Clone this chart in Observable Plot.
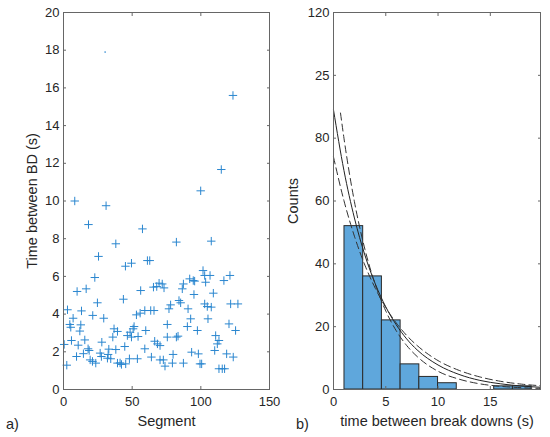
<!DOCTYPE html>
<html><head><meta charset="utf-8">
<script src="https://cdn.jsdelivr.net/npm/d3@7"></script>
<script src="https://cdn.jsdelivr.net/npm/@observablehq/plot@0.6"></script>
<style>
body{margin:0;background:#fff;}
#wrap{position:relative;width:550px;height:437px;font-family:Arial,"Liberation Sans",sans-serif;background:#fff;}
#a,#b{position:absolute;top:0}
#a{left:0;z-index:2} #b{left:275px;z-index:1}
.tag{position:absolute;font-size:14.5px;color:#262626;line-height:1}
</style></head><body>
<div id="wrap"><div id="a"></div><div id="b"></div>
<div class="tag" style="left:6px;top:417px">a)</div>
<div class="tag" style="left:296px;top:417px">b)</div>
</div>
<script>
// ---- panel a: scatter ----
const segment = [8.2,31,99.9,114.9,123.4,18.2,25.5,22.8,9.9,16.5,24.7,2.9,13.1,21.3,29.3,7.0,4.6,5.3,12.6,11.9,5.8,15.5,0.5,10.7,17.9,18.7,14.5,9.5,2.4,19.4,21.1,23.5,26.7,27.6,27.9,33,32.5,32,34.4,38.1,36.8,39.3,35.9,38.1,39.3,41.2,42.2,43.6,44.6,45.3,45.1,49.5,46.5,48.5,49.5,50.7,51.4,48,53.8,53.1,54.3,56.2,57.5,55.8,59.2,59.9,59.2,61.1,62.8,63.5,65.9,64,66.4,68.4,70.3,65.5,67.9,69.6,71.9,73.2,70.3,72.7,73.9,75.6,75.6,76.8,78,79.8,79.3,82.2,82.2,83.4,84.1,85.3,86.5,87.3,87.3,90.2,90.7,91.9,92.6,93.3,94.5,95.5,95,97.5,98.2,99.4,100.6,101.6,102.8,103.5,102.8,104.7,105.2,106.7,107.6,107.6,109.1,110.1,110.8,112,113.2,113.2,115.6,117.3,116.8,121.2,118.8,120.5,121.7,123.6,125.3,127];
const timeBD = [10.0,9.75,10.54,11.67,15.6,8.75,7.06,5.94,5.2,5.34,4.6,4.23,4.17,3.93,3.78,3.78,3.45,3.3,3.43,3.1,2.6,2.63,2.39,2.35,2.16,2.07,1.9,1.75,1.29,1.57,1.49,1.4,1.93,1.75,2.51,2.14,1.86,1.66,1.63,2.12,3.22,3.08,2.78,7.73,1.4,1.41,1.33,4.79,2.28,1.36,6.54,6.7,2.86,3.04,2.78,3.22,3.34,1.63,1.63,3.96,2.81,5.25,8.52,4.05,4.19,3.13,2.16,6.84,6.84,4.19,4.19,1.72,2.56,2.42,2.33,5.43,5.46,5.64,5.6,5.39,1.57,1.57,1.24,3.45,2.78,4.28,4.49,1.86,1.4,2.78,7.82,2.83,4.72,4.6,5.34,5.6,1.4,3.34,4.28,5.87,3.75,1.98,5.78,5.75,5.04,3.13,1.89,1.36,1.36,6.31,6.05,5.69,4.54,4.4,3.75,6.05,4.37,7.87,5.11,2.07,2.86,2.42,2.6,1.1,1.1,1.1,5.78,6.05,1.89,3.48,4.54,1.72,3.13,4.54];
const outlierSeg = [30.3];
const outlierTime = [17.9];
const xTicksA = [0,50,100,150];
const yTicksA = [0,2,4,6,8,10,12,14,16,18,20];

// ---- panel b: histogram + exponential fit ----
const binEdges = [1.05,2.84,4.63,6.42,8.21,10.0,11.79,13.58,15.37,17.16,18.95];
const counts = [52,36,22,8,4,2,0,0,1,1];
const fitX = [0,1,2,3,4,5,6,7,8,10,12,14,16,18,19.8];
const fitMid = [89,69.7,54.6,42.8,33.6,26.3,20.6,16.1,12.6,7.8,4.8,2.9,1.8,1.1,0.71];
const fitFlat = [74,60.1,48.8,39.6,32.2,26.1,21.2,17.2,14.0,9.2,6.1,4.0,2.6,1.7,1.2];
const steepX = [0.67,1,2,3,4,5,6,7,8,10,12,14,16,18,19.8];
const fitSteep = [88,80.0,59.8,44.7,33.4,25.0,18.7,14.0,10.5,5.8,3.3,1.8,1.0,0.57,0.34];
const xTicksB = [0,5,10,15];
const yTicksB = [0,20,40,60,80,100,120];
const yLabelsB = ["0","20","40","60","80","25","120"];

const scatter = segment.map((s,i)=>({s, t: timeBD[i]}));
const outlier = outlierSeg.map((s,i)=>({s, t: outlierTime[i]}));
const bars = counts.map((c,i)=>({x1: binEdges[i], x2: binEdges[i+1], c})).filter(d=>d.c>0);
const mid = fitX.map((x,i)=>({x, y: fitMid[i]}));
const flat = fitX.map((x,i)=>({x, y: fitFlat[i]}));
const steep = steepX.map((x,i)=>({x, y: fitSteep[i]}));

const FONT = 'Arial, "Liberation Sans", sans-serif';
const INK = "#262626";
const BOX = "#666";
const style = {fontFamily: FONT, fontSize: "13px", color: INK, background: "transparent", overflow: "visible"};

function boxAxes(xt, yt, yfmt) {
  return [
    Plot.frame({stroke: BOX, strokeWidth: 1}),
    Plot.axisX(xt, {anchor: "bottom", tickSize: -3, tickPadding: 10, stroke: BOX, fill: INK, label: null}),
    Plot.axisX(xt, {anchor: "top", tickSize: -3, tickFormat: () => "", stroke: BOX, label: null}),
    Plot.axisY(yt, {anchor: "left", tickSize: -3, tickPadding: 7, stroke: BOX, fill: INK, label: null, tickFormat: yfmt}),
    Plot.axisY(yt, {anchor: "right", tickSize: -3, tickFormat: () => "", stroke: BOX, label: null})
  ];
}

const plus = {draw(ctx, size) { const r = 4.2; ctx.moveTo(-r,0); ctx.lineTo(r,0); ctx.moveTo(0,-r); ctx.lineTo(0,r); }};

const chartA = Plot.plot({
  width: 275, height: 437,
  marginLeft: 63, marginRight: 6, marginTop: 12, marginBottom: 48,
  style,
  x: {domain: [0,150]},
  y: {domain: [0,20]},
  marks: [
    Plot.dot(scatter, {x: "s", y: "t", symbol: plus, r: 4, stroke: "#2a86cf", strokeWidth: 1, fill: "none"}),
    Plot.dot(outlier, {x: "s", y: "t", r: 0.8, fill: "#2a86cf"}),
    ...boxAxes(xTicksA, yTicksA, d => String(d)),
    Plot.text(["Segment"], {frameAnchor: "bottom", dy: 32, lineAnchor: "middle", fontSize: 14.5, fill: INK}),
    Plot.text(["Time between BD (s)"], {frameAnchor: "left", dx: -31, rotate: -90, lineAnchor: "middle", textAnchor: "middle", fontSize: 14.5, fill: INK})
  ]
});

const chartB = Plot.plot({
  width: 275, height: 437,
  marginLeft: 58, marginRight: 10, marginTop: 12, marginBottom: 48,
  style,
  x: {domain: [0,19.8]},
  y: {domain: [0,120]},
  marks: [
    Plot.rectY(bars, {x1: "x1", x2: "x2", y1: 0, y2: "c", fill: "#5fa7dc", stroke: "#2a2a2a", strokeWidth: 1}),
    Plot.line(mid, {x: "x", y: "y", stroke: "#222", strokeWidth: 1, curve: "monotone-x"}),
    Plot.line(flat, {x: "x", y: "y", stroke: "#333", strokeWidth: 1, strokeDasharray: "7,4", curve: "monotone-x"}),
    Plot.line(steep, {x: "x", y: "y", stroke: "#333", strokeWidth: 1, strokeDasharray: "7,4", curve: "monotone-x"}),
    ...boxAxes(xTicksB, yTicksB, d => yLabelsB[yTicksB.indexOf(d)]),
    Plot.text(["time between break downs (s)"], {frameAnchor: "bottom", dy: 32, lineAnchor: "middle", fontSize: 14.5, fill: INK}),
    Plot.text(["Counts"], {frameAnchor: "left", dx: -40, rotate: -90, lineAnchor: "middle", textAnchor: "middle", fontSize: 14.5, fill: INK})
  ]
});

document.getElementById("a").appendChild(chartA);
document.getElementById("b").appendChild(chartB);
</script>
</body></html>
